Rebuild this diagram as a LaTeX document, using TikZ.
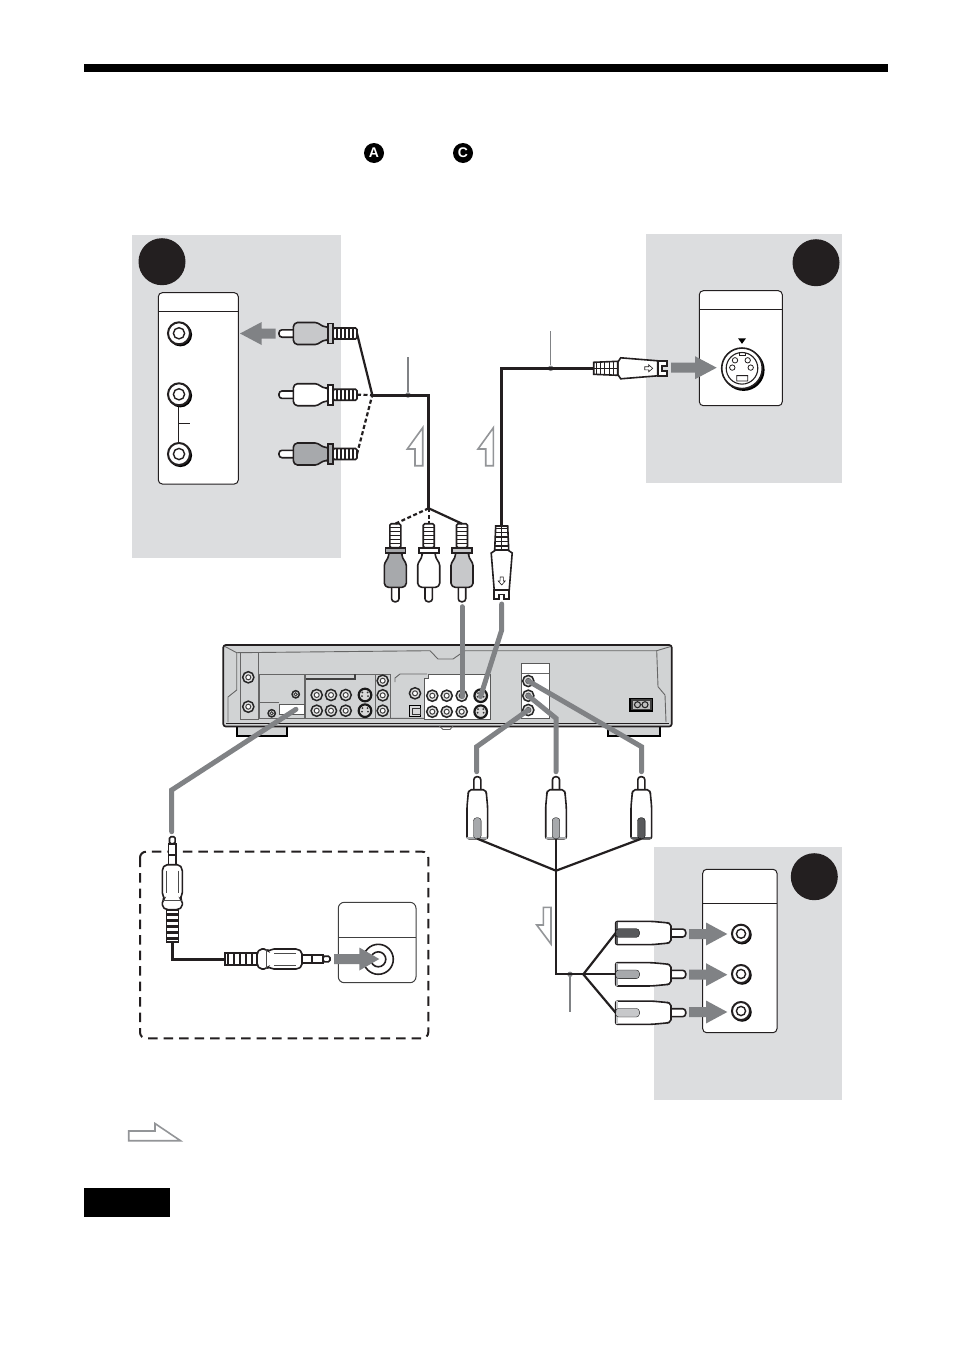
\documentclass[tikz,border=0pt]{standalone}
\usepackage{fontspec}
\setsansfont{Liberation Sans}
\definecolor{panelgray}{HTML}{DCDDDF}
\definecolor{unitgray}{HTML}{D1D3D4}
\definecolor{arrowgray}{HTML}{808285}
\definecolor{flowgray}{HTML}{939598}
\definecolor{inkblack}{HTML}{231F20}
\definecolor{pluglight}{HTML}{C7C8CA}
\definecolor{plugmid}{HTML}{A7A9AC}
\definecolor{plugdark}{HTML}{58595B}
\tikzset{
  plugline/.style={line width=1.6pt,draw=inkblack},
  ribline/.style={line width=1.4pt,draw=inkblack},
  cablemain/.style={line width=3pt,draw=inkblack},
  cablethin/.style={line width=2.2pt,draw=inkblack},
  cabledash/.style={cablethin,dash pattern=on 4pt off 2.5pt},
  plugin/.style={line width=5pt,draw=arrowgray,line cap=round},
  leader/.style={line width=1.2pt,draw=arrowgray},
  leaderdot/.style={circle,fill=arrowgray,inner sep=0pt,minimum size=5.5pt},
  flowarrow/.style={line width=1.6pt,draw=flowgray,fill=white},
  bigbadge/.style={circle,fill=inkblack,inner sep=0pt,minimum size=47pt},
  smallbadge/.style={circle,fill=black,inner sep=0pt,minimum size=20pt,text=white,
    font=\sffamily\bfseries\fontsize{14}{14}\selectfont},
  devicebox/.style={line width=1pt,draw=inkblack,fill=white,rounded corners=4pt},
  unitline/.style={line width=0.9pt,draw=black!60},
  pics/blockarrow/.style args={#1/#2}{code={
    \fill[arrowgray] (0,0)--(-#1,-11.5)--(-#1,-5)--(-#2,-5)--(-#2,5)--(-#1,5)--(-#1,11.5)--cycle;
  }},
  pics/rcajack/.style={code={
    \fill[black] (1.3,1.3) circle (11.8);
    \draw[line width=2pt,draw=inkblack,fill=white] (0,0) circle (11);
    \draw[line width=1.4pt,draw=inkblack] (0,0) circle (5.6);
    \coordinate (-c) at (0,0);
  }},
  pics/unitjack/.style={code={
    \draw[line width=1.5pt,draw=black!85,fill=black!12] (0,0) circle (5.6);
    \draw[line width=1pt,draw=black!75,fill=white] (0,0) circle (2.5);
  }},
  pics/unitsjack/.style={code={
    \draw[line width=2.2pt,draw=black!90,fill=black!15] (0,0) circle (6.3);
    \fill[black!80] (-2.6,-2.6) circle (1) (2.6,-2.6) circle (1) (-3,1) circle (1) (3,1) circle (1);
  }},
  pics/rcaplug/.style={code={
    \draw[plugline,fill=white,rounded corners=3pt] (0,-3.7) rectangle (17,3.7);
    \draw[plugline,fill=#1,rounded corners=1.5pt] (14.3,-8)--(17,-11)--(37.7,-11)--(45,-6.7)--(49,-6.7)
      --(49,6.7)--(45,6.7)--(37.7,11)--(17,11)--(14.3,8)--cycle;
    \draw[plugline,fill=#1] (49,-10) rectangle (54,10);
    \draw[plugline,fill=white,rounded corners=1.5pt] (54,-5.5) rectangle (78,5.5);
    \draw[ribline] (58,-5.5)--(58,5.5) (62,-5.5)--(62,5.5) (66,-5.5)--(66,5.5)
      (70,-5.5)--(70,5.5) (74,-5.5)--(74,5.5);
    \coordinate (-end) at (78,0);
  }},
  pics/compplug/.style={code={
    \draw[plugline,fill=white,rounded corners=3pt] (0,-3.5) rectangle (16,3.5);
    \draw[plugline,fill=white,rounded corners=2pt] (13,-8)--(16,-9)--(30,-10.3)--(62,-10.3)
      --(62,10.3)--(30,10.3)--(16,9)--(13,8)--cycle;
    \fill[#1] (60,-10) rectangle (62,10);
    \draw[line width=0.3pt,fill=#1,rounded corners=3pt] (62,-3.8)--(41,-3.8)--(41,3.8)--(62,3.8)--cycle;
    \coordinate (-end) at (62,0);
  }},
  pics/svideoplug/.style={code={
    \draw[plugline,fill=white] (0,-7.5)--(9,-7.5)--(9,7.5)--(0,7.5)--(0,2.5)--(4.5,2.5)--(4.5,-2.5)--(0,-2.5)--cycle;
    \draw[plugline,fill=white] (9,-7.5)--(46,-10.5)--(49,-6)--(49,6)--(46,10.5)--(9,7.5)--cycle;
    \draw[line width=0.6pt,draw=inkblack,fill=white] (14,0)--(18,-3.5)--(18,-1.6)--(22,-1.6)--(22,1.6)--(18,1.6)--(18,3.5)--cycle;
    \draw[plugline,fill=white] (49,-7)--(73,-6)--(73,6)--(49,7)--cycle;
    \draw[ribline] (53,-6.8)--(53,6.8) (57.5,-6.6)--(57.5,6.6) (62,-6.4)--(62,6.4) (66.5,-6.2)--(66.5,6.2) (70.5,-6)--(70.5,6)
      (49,0)--(73,0);
    \coordinate (-end) at (73,0);
  }},
  pics/audioplug/.style={code={
    \draw[plugline,fill=white,rounded corners=1.5pt] (0,-2.8) rectangle (7,2.8);
    \draw[plugline,fill=white] (7,-3.8) rectangle (28,3.8);
    \draw[plugline] (18,-3.8)--(18,3.8);
    \draw[plugline,fill=white,rounded corners=2pt] (28,-7)--(32,-10)--(58,-10)--(62,-7.5)--(64,-10)--(70,-10)
      --(73,-6)--(73,6)--(70,10)--(64,10)--(62,7.5)--(58,10)--(32,10)--(28,7)--cycle;
    \draw[line width=0.6pt,draw=black!70] (34,-6)--(56,-6) (34,6)--(56,6) (64,-10)--(64,10);
    \draw[plugline,fill=white] (73,-6) rectangle (105,6);
    \draw[ribline,line width=2.6pt] (78,-6)--(78,6) (84,-6)--(84,6) (90,-6)--(90,6) (96,-6)--(96,6) (102,-6)--(102,6);
    \coordinate (-end) at (105,0);
  }},
}
\begin{document}
\begin{tikzpicture}[x=1pt,y=-1pt]
  \path[use as bounding box,fill=white] (0,0) rectangle (954,1352);

  % page furniture
  \fill[black] (84,64) rectangle (888,72.3);
  \node[smallbadge] (refa) at (374,153) {A};
  \node[smallbadge] (refc) at (463,153) {C};
  \fill[black] (84,1188) rectangle (170,1217);
  \draw[flowarrow] (128.7,1131)--(155,1131)--(155,1123.5)--(180.5,1140.7)--(128.7,1140.7)--cycle;

  % grey panels behind the three TV inputs
  \fill[panelgray] (132,235) rectangle (341,558);
  \fill[panelgray] (646,234) rectangle (842,483);
  \fill[panelgray] (654,847.3) rectangle (842,1100);
  \node[bigbadge] (badgea) at (162,261.7) {};
  \node[bigbadge] (badgeb) at (816,262.7) {};
  \node[bigbadge] (badgec) at (814.3,876.7) {};

  % TV side, input A
  \draw[devicebox] (158.3,292.7) rectangle (238.3,484);
  \draw[line width=1pt,draw=inkblack] (158.3,311) -- (238.3,311);
  \draw[line width=1pt,draw=inkblack] (178.5,394.3) -- (178.5,454) (178.5,423.3) -- (190,423.3);
  \pic (ajack1) at (179,333.3) {rcajack};
  \pic (ajack2) at (179,394.3) {rcajack};
  \pic (ajack3) at (179,454) {rcajack};
  \pic[rotate=180] (aarrow) at (240,333.5) {blockarrow=21.7/35.7};

  % TV side, input B
  \draw[devicebox] (699.3,290.7) rectangle (782.3,405.7);
  \draw[line width=1pt,draw=inkblack] (699.3,309.3) -- (782.3,309.3);
  \fill[black] (738,338.3)--(746,338.3)--(742,343.8)--cycle;
  \fill[black] (743.6,369.9) circle (21);
  \draw[line width=1.6pt,draw=inkblack,fill=white] (742,368.3) circle (20.3);
  \draw[line width=1.1pt,draw=inkblack] (742,368.3) circle (15.8);
  \draw[line width=0.8pt,draw=inkblack,fill=white] (735,360.3) circle (2.7) (747.7,360.3) circle (2.7)
    (732.3,367.6) circle (2.7) (750.7,367.6) circle (2.7) (736.7,375.6) rectangle (747.7,381);
  \draw[line width=0.8pt,draw=inkblack] (739,352.8)--(739,355)--(745,355)--(745,352.8);
  \pic (barrow) at (716.7,367.7) {blockarrow=21.7/45.7};

  % TV side, input C
  \draw[devicebox] (702.7,869.3) rectangle (777,1032.7);
  \draw[line width=1pt,draw=inkblack] (702.7,903.3) -- (777,903.3);
  \pic[scale=0.82] (cjack1) at (741,933.7) {rcajack};
  \pic[scale=0.82] (cjack2) at (741,974) {rcajack};
  \pic[scale=0.82] (cjack3) at (741,1011) {rcajack};
  \pic (carrow1) at (727.3,934) {blockarrow=21.3/38.3};
  \pic (carrow2) at (727.3,974.7) {blockarrow=21.3/38.3};
  \pic (carrow3) at (727.3,1012) {blockarrow=21.3/38.3};

  % optional audio amplifier inside the dashed frame
  \draw[line width=2pt,draw=inkblack,dash pattern=on 9.5pt off 6pt,rounded corners=6pt]
    (140,851.7) rectangle (428.3,1038.3);
  \draw[line width=1pt,draw=black!75,fill=white,rounded corners=6pt] (338.3,902.3) rectangle (416,982.7);
  \draw[line width=1pt,draw=black!75] (338.3,937.7) -- (416,937.7);
  \draw[line width=1.6pt,draw=inkblack] (378.3,959.3) circle (15);
  \draw[line width=1.6pt,draw=inkblack] (378.3,959.3) circle (7.5);
  \pic (darrow) at (379.3,959) {blockarrow=20/45.3};

  % the recorder
  \fill[black] (235.7,726) rectangle (287.7,736.7);
  \fill[unitgray] (237.7,726) rectangle (285.7,734.7);
  \fill[black] (607.3,726) rectangle (660.7,736.7);
  \fill[unitgray] (609.3,726) rectangle (658.7,734.7);
  \draw[line width=1.7pt,draw=inkblack,fill=unitgray,rounded corners=2.5pt] (223.3,645) rectangle (671.7,726.5);
  \draw[line width=1.7pt,draw=inkblack] (226,723.5) -- (669,723.5);
  \draw[unitline] (439.3,726)--(443,729.5)--(450,729.5)--(453,726);
  \draw[unitline] (225,646.5)--(236.7,652.7)--(236.7,690)--(228,697)--(228,722);
  \draw[unitline] (236.7,652.7)--(430,650.7)--(438,659)--(453,659)--(465,650.7)--(656.7,650.7)--(670,646.7);
  \draw[unitline] (656.7,650.7)--(658,686.7)--(665,695)--(666,722);
  \draw[unitline] (240,719.3)--(240,652.7)--(258.3,652.7)--(258.3,719.3)--cycle;
  \draw[unitline] (259.3,674)--(304.3,674)--(304.3,718.3)--(259.3,718.3)--cycle (259.3,702.7)--(279,702.7);
  \draw[line width=0.6pt,draw=black!65,fill=white] (279,704) rectangle (304.3,714.3);
  \draw[unitline] (305.7,674)--(375,674)--(375,718.3)--(305.7,718.3)--cycle;
  \draw[line width=1.3pt,draw=black!75] (305.7,679)--(355,679)--(355,674);
  \draw[unitline] (375,674)--(390,674)--(390,718.3)--(375,718.3)--cycle;
  \draw[unitline] (390,718.3)--(424.3,718.3) (395,682)--(395,678)--(400,674)--(427,674);
  \draw[line width=0.8pt,draw=black!65,fill=white] (424.3,678) -- (428,678) -- (428,674) -- (490,674) -- (490,719.3) -- (424.3,719.3) -- cycle;
  \draw[line width=0.8pt,draw=black!65,fill=white] (521.7,663.3) rectangle (549.3,718.3);
  \draw[unitline] (521.7,673.3) -- (549.3,673.3);
  \draw[line width=1.5pt,draw=black,fill=black!75] (630,698.3) rectangle (652.7,711);
  \fill[black!25] (633,701) rectangle (650,708.5);
  \draw[line width=1.1pt,draw=black!85] (637.5,704.7) circle (3) (645,704.7) circle (3);
  \draw[line width=1.5pt,draw=black,fill=black!15] (409.7,705.7) rectangle (420.5,716.5);
  \draw[line width=1pt,draw=black!80] (412.7,708.5) rectangle (420.5,714);
  \path pic at (248.3,677.3) {unitjack} pic at (248.3,706.7) {unitjack}
    pic[scale=0.65] at (295.7,694.3) {unitjack} pic[scale=0.65] at (271.7,713.3) {unitjack}
    pic at (316.7,695) {unitjack} pic at (331,695) {unitjack} pic at (345.7,695) {unitjack}
    pic at (316.7,710.7) {unitjack} pic at (331,710.7) {unitjack} pic at (345.7,710.7) {unitjack}
    pic at (365,695) {unitsjack} pic at (365,710.7) {unitsjack}
    pic at (382.7,680.7) {unitjack} pic at (382.7,695.3) {unitjack} pic at (382.7,710.7) {unitjack}
    pic at (415,693.3) {unitjack}
    pic at (432.3,695.7) {unitjack} pic at (446.7,695.7) {unitjack} pic at (461.7,695.7) {unitjack}
    pic at (480.7,695.7) {unitsjack}
    pic at (432.3,711.7) {unitjack} pic at (446.7,711.7) {unitjack} pic at (461.7,711.7) {unitjack}
    pic at (480.7,711.7) {unitsjack};
  \path pic at (528.3,681) {unitjack} pic at (528.3,695.7) {unitjack} pic at (528.3,710) {unitjack};

  % audio/video cable to input A
  \pic (aplug1) at (279,333.5) {rcaplug=pluglight};
  \pic (aplug2) at (279,394.7) {rcaplug=white};
  \pic (aplug3) at (279,454) {rcaplug=plugmid};
  \pic[rotate=90] (rplug1) at (395.3,601.7) {rcaplug=plugmid};
  \pic[rotate=90] (rplug2) at (428.7,601.7) {rcaplug=white};
  \pic[rotate=90] (rplug3) at (462,601.7) {rcaplug=pluglight};
  \coordinate (ajoin) at (372.3,395);
  \coordinate (acorner) at (428.7,395);
  \coordinate (rjoin) at (428.7,508.3);
  \coordinate (aleadtop) at (408,357.3);
  \node[leaderdot] (aleaddot) at (408,395) {};
  \draw[cablethin] (aplug1-end) -- (ajoin);
  \draw[cabledash] (aplug2-end) -- (ajoin);
  \draw[cabledash] (aplug3-end) -- (ajoin);
  \draw[cablemain] (ajoin) -- (acorner) -- (rjoin);
  \draw[cablethin] (rjoin) -- (rplug3-end);
  \draw[cabledash] (rjoin) -- (rplug2-end);
  \draw[cabledash] (rjoin) -- (rplug1-end);
  \draw[leader] (aleadtop) -- (aleaddot);
  \draw[flowarrow] (422.7,465.7)--(422.7,427.7)--(407.3,449)--(415,449)--(415,465.7)--cycle;

  % S video cable to input B
  \pic[rotate=180] (splug1) at (666.7,368.3) {svideoplug};
  \pic[rotate=90] (splug2) at (501.7,599) {svideoplug};
  \coordinate (scorner) at (501.7,368.3);
  \coordinate (sleadtop) at (550.7,331);
  \node[leaderdot] (sleaddot) at (550.7,368.3) {};
  \draw[cablemain] (splug2-end) -- (scorner) -- (splug1-end);
  \draw[leader] (sleadtop) -- (sleaddot);
  \draw[flowarrow] (493.4,465.7)--(493.4,427.7)--(478,449)--(485.7,449)--(485.7,465.7)--cycle;

  % component cable to input C
  \pic[rotate=-90] (uplug1) at (477.3,776.7) {compplug=plugmid};
  \pic[rotate=-90] (uplug2) at (556,776.7) {compplug=plugmid};
  \pic[rotate=-90] (uplug3) at (641.3,776.7) {compplug=plugdark};
  \pic[rotate=180,scale=1.13] (cplug1) at (685.7,933) {compplug=plugdark};
  \pic[rotate=180,scale=1.13] (cplug2) at (685.7,974.3) {compplug=plugmid};
  \pic[rotate=180,scale=1.13] (cplug3) at (685.7,1012.7) {compplug=pluglight};
  \coordinate (ujoin) at (556,870.7);
  \coordinate (ucorner) at (556,974.3);
  \coordinate (cjoin) at (583.3,974.3);
  \coordinate (cleadend) at (570,1011.7);
  \node[leaderdot] (cleaddot) at (570,974.3) {};
  \draw[cablethin] (uplug1-end) -- (ujoin);
  \draw[cablethin] (uplug2-end) -- (ujoin);
  \draw[cablethin] (uplug3-end) -- (ujoin);
  \draw[cablethin] (ujoin) -- (ucorner) -- (cjoin);
  \draw[cablethin] (cjoin) -- (cplug1-end);
  \draw[cablethin] (cjoin) -- (cplug2-end);
  \draw[cablethin] (cjoin) -- (cplug3-end);
  \draw[leader] (cleaddot) -- (cleadend);
  \draw[flowarrow] (551,907.3)--(543.3,907.3)--(543.3,925)--(536.7,925)--(551,944)--cycle;

  % audio cable to the amplifier
  \pic[rotate=-90] (dplug1) at (172.3,836.7) {audioplug};
  \pic[rotate=180] (dplug2) at (330,959) {audioplug};
  \coordinate (dcorner) at (172.3,959);
  \draw[cablemain] (dplug1-end) -- (dcorner) -- (dplug2-end);

  % grey guides from the plugs to the recorder
  \coordinate (pin1) at (462,606.7);
  \coordinate (pin1end) at (462,696.5);
  \coordinate (pin2) at (501.7,604);
  \coordinate (pin2mid) at (501.7,630);
  \coordinate (pin2end) at (480.5,696.5);
  \coordinate (pin3) at (528.3,681);
  \coordinate (pin3mid) at (641.5,746.7);
  \coordinate (pin3end) at (641.5,771.7);
  \coordinate (pin4) at (528.3,695.7);
  \coordinate (pin4mid) at (556,718.3);
  \coordinate (pin4end) at (556,771.7);
  \coordinate (pin5) at (528.3,710);
  \coordinate (pin5mid) at (476.7,746.7);
  \coordinate (pin5end) at (476.7,771.7);
  \coordinate (pin6) at (296,709.3);
  \coordinate (pin6mid) at (171.7,790);
  \coordinate (pin6end) at (171.7,831.7);
  \draw[plugin] (pin1) -- (pin1end);
  \draw[plugin] (pin2) -- (pin2mid) -- (pin2end);
  \draw[plugin] (pin3) -- (pin3mid) -- (pin3end);
  \draw[plugin] (pin4) -- (pin4mid) -- (pin4end);
  \draw[plugin] (pin5) -- (pin5mid) -- (pin5end);
  \draw[plugin] (pin6) -- (pin6mid) -- (pin6end);
\end{tikzpicture}
\end{document}
